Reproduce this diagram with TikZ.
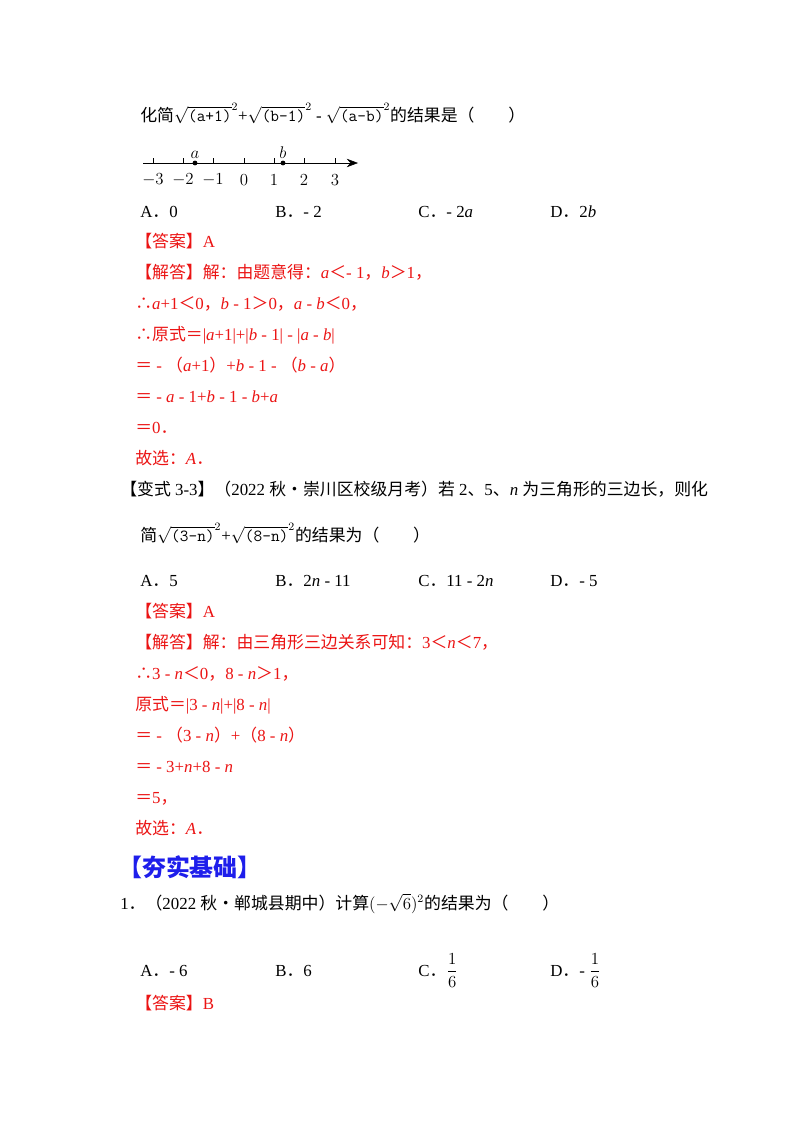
\documentclass[tikz,border=0pt]{standalone}
\usepackage{fontspec}
\usepackage{amsmath}
\setmainfont{Liberation Serif}
\newfontfamily\cjk{Noto Sans CJK SC}
\usetikzlibrary{arrows.meta}
\definecolor{ansred}{RGB}{235,20,20}
\definecolor{headblue}{RGB}{30,30,235}
\newcommand{\rt}[1]{\sqrt{\texttt{#1}}}
% CJK characters switch to the CJK font on their own
\newXeTeXintercharclass\zhclass
\count255="4E00
\loop\XeTeXcharclass\count255=\zhclass\advance\count255 by 1 \ifnum\count255<"A000 \repeat
\count255="3000
\loop\XeTeXcharclass\count255=\zhclass\advance\count255 by 1 \ifnum\count255<"3040 \repeat
\count255="FF00
\loop\XeTeXcharclass\count255=\zhclass\advance\count255 by 1 \ifnum\count255<"FF66 \repeat
\XeTeXcharclass"2234=\zhclass
\XeTeXcharclass"2022=\zhclass
\XeTeXinterchartoks 0 \zhclass={\begingroup\cjk}
\XeTeXinterchartoks 4095 \zhclass={\begingroup\cjk}
\XeTeXinterchartoks \zhclass 0={\endgroup}
\XeTeXinterchartoks \zhclass 4095={\endgroup}
\XeTeXinterchartokenstate=1
\begin{document}
\begin{tikzpicture}[x=0.025cm, y=-0.025cm,
    txt/.style={anchor=base west, inner sep=0pt, font=\fontsize{12}{14}\selectfont},
    ans/.style={txt, text=ansred},
    num/.style={font=\fontsize{12}{14}\selectfont},
    head/.style={anchor=base west, inner sep=0pt, text=headblue, font=\fontsize{17}{20}\selectfont\bfseries\cjk}]
  \useasboundingbox (0,0) rectangle (800,1132);
  % first question
  \node[txt] (q1) at (140,121) {化简$\rt{(a+1)}^{2}$+$\rt{(b-1)}^{2}$ - $\rt{(a-b)}^{2}$的结果是（\quad\quad ）};
  \coordinate (axs) at (143,163);
  \coordinate (axe) at (358,163);
  \draw[thin,-{Stealth[length=8pt]}] (axs) -- (axe);
  \foreach \v/\x in {-3/153,-2/183,-1/213,0/244,1/274,2/304,3/335}{
    \draw (\x,163) -- (\x,158);
    \node[num] (t\x) at (\x,180) {$\v$};
  }
  \fill (195,163) circle (2.4) node[num, above=0pt] (pa) {$a$};
  \fill (283,163) circle (2.4) node[num, above=0pt] (pb) {$b$};
  \node[txt] (o1a) at (140,217) {A．0};
  \node[txt] (o1b) at (275,217) {B．- 2};
  \node[txt] (o1c) at (418,217) {C．- 2\textit{a}};
  \node[txt] (o1d) at (550,217) {D．2\textit{b}};
  \node[ans] (r1) at (135,247) {【答案】A};
  \node[ans] (s1) at (135,278) {【解答】解：由题意得：\textit{a}＜- 1，\textit{b}＞1，};
  \node[ans] (s2) at (135,309) {∴\textit{a}+1＜0，\textit{b} - 1＞0，\textit{a} - \textit{b}＜0，};
  \node[ans] (s3) at (135,340) {∴原式＝|\textit{a}+1|+|\textit{b} - 1| - |\textit{a} - \textit{b}|};
  \node[ans] (s4) at (135,371) {＝ - （\textit{a}+1）+\textit{b} - 1 - （\textit{b} - \textit{a}）};
  \node[ans] (s5) at (135,402) {＝ - \textit{a} - 1+\textit{b} - 1 - \textit{b}+\textit{a}};
  \node[ans] (s6) at (135,433) {＝0．};
  \node[ans] (s7) at (135,464) {故选：\textit{A}．};
  % variant 3-3
  \node[txt] (q2) at (120,495) {【变式 3-3】（2022 秋•崇川区校级月考）若 2、5、\textit{n} 为三角形的三边长，则化};
  \node[txt] (q2b) at (140,541) {简$\rt{(3-n)}^{2}$+$\rt{(8-n)}^{2}$的结果为（\quad\quad ）};
  \node[txt] (o2a) at (140,586) {A．5};
  \node[txt] (o2b) at (275,586) {B．2\textit{n} - 11};
  \node[txt] (o2c) at (418,586) {C．11 - 2\textit{n}};
  \node[txt] (o2d) at (550,586) {D．- 5};
  \node[ans] (r2) at (135,617) {【答案】A};
  \node[ans] (u1) at (135,648) {【解答】解：由三角形三边关系可知：3＜\textit{n}＜7，};
  \node[ans] (u2) at (135,679) {∴3 - \textit{n}＜0，8 - \textit{n}＞1，};
  \node[ans] (u3) at (135,710) {原式＝|3 - \textit{n}|+|8 - \textit{n}|};
  \node[ans] (u4) at (135,741) {＝ - （3 - \textit{n}）+（8 - \textit{n}）};
  \node[ans] (u5) at (135,772) {＝ - 3+\textit{n}+8 - \textit{n}};
  \node[ans] (u6) at (135,803) {＝5，};
  \node[ans] (u7) at (135,834) {故选：\textit{A}．};
  % basics
  \node[head] (h1) at (118,876) {【夯实基础】};
  \node[txt] (q3) at (120,909) {1．（2022 秋•郸城县期中）计算$(-\sqrt{6})^{2}$的结果为（\quad\quad ）};
  \node[txt] (o3a) at (140,976) {A．- 6};
  \node[txt] (o3b) at (275,976) {B．6};
  \node[txt] (o3c) at (418,976) {C．$\dfrac{1}{6}$};
  \node[txt] (o3d) at (550,976) {D．- $\dfrac{1}{6}$};
  \node[ans] (r3) at (135,1009) {【答案】B};
\end{tikzpicture}
\end{document}
